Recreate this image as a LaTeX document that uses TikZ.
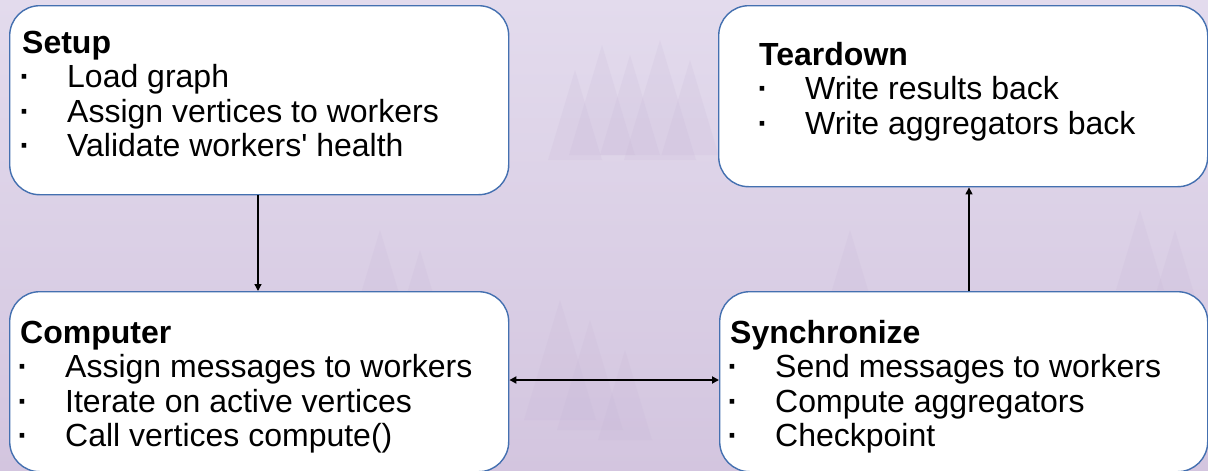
\documentclass[tikz,border=0pt]{standalone}
\usepackage{fontspec}
\setmainfont{Liberation Sans}[Ligatures=TeXOff]
\usetikzlibrary{arrows.meta}
\definecolor{bgtop}{HTML}{E3DBED}
\definecolor{bgbot}{HTML}{D3C5DF}
\definecolor{treec}{HTML}{C4B2D4}
\definecolor{boxblue}{HTML}{4470B0}
\tikzset{
  box/.style={draw=boxblue, line width=1.4pt, fill=white, rounded corners=30pt,
    anchor=north west, inner sep=0pt},
  ttl/.style={anchor=base west, inner sep=0pt, font=\bfseries\fontsize{32}{36}\selectfont},
  itm/.style={anchor=base west, inner sep=0pt, font=\fontsize{32}{36}\selectfont},
  bul/.style={anchor=base, inner sep=0pt, font=\bfseries\fontsize{32}{36}\selectfont},
  conn/.style={line width=1.3pt, -{Triangle[length=7pt,width=7pt]}},
  dconn/.style={line width=2pt, {Triangle[length=7pt,width=7pt]}-{Triangle[length=7pt,width=7pt]}},
  tree/.style={fill=treec, opacity=0.15, draw=none}
}
\begin{document}
\begin{tikzpicture}[x=1pt,y=-1pt]
\useasboundingbox (0,0) rectangle (1208,471);
\shade[top color=bgtop, bottom color=bgbot] (0,0) rectangle (1208,471);
% faint forest
\foreach \tx/\ty/\th in {575/70/90, 602/45/110, 630/55/100, 660/40/120, 690/60/95, 1140/210/80, 1175/230/70, 560/300/120, 590/320/110, 625/350/90, 380/230/70, 420/250/60, 850/230/70}{
  \fill[tree] (\tx,\ty) -- (\tx+0.3*\th,\ty+\th) -- (\tx-0.3*\th,\ty+\th) -- cycle;
}
% boxes
\node[box, minimum width=499pt, minimum height=189pt] (setup) at (9,5) {};
\node[box, minimum width=489pt, minimum height=181pt] (teardown) at (718,5) {};
\node[box, minimum width=499pt, minimum height=180pt] (computer) at (9,291) {};
\node[box, minimum width=488pt, minimum height=180pt] (sync) at (719,291) {};
% Setup text
\node[ttl] (setupt) at (22,53) {Setup};
\node[bul] (sb1) at (25,87.5) {·};
\node[bul] (sb2) at (25,122) {·};
\node[bul] (sb3) at (25,156.5) {·};
\node[itm] (si1) at (67,87.5) {Load graph};
\node[itm] (si2) at (67,122) {Assign vertices to workers};
\node[itm] (si3) at (67,156.5) {Validate workers' health};
% Teardown text
\node[ttl] (teart) at (759,65) {Teardown};
\node[bul] (tb1) at (763,99.5) {·};
\node[bul] (tb2) at (763,134) {·};
\node[itm] (ti1) at (805,99.5) {Write results back};
\node[itm] (ti2) at (805,134) {Write aggregators back};
% Computer text
\node[ttl] (compt) at (20,343) {Computer};
\node[bul] (cb1) at (23,377.5) {·};
\node[bul] (cb2) at (23,412) {·};
\node[bul] (cb3) at (23,446.5) {·};
\node[itm] (ci1) at (65,377.5) {Assign messages to workers};
\node[itm] (ci2) at (65,412) {Iterate on active vertices};
\node[itm] (ci3) at (65,446.5) {Call vertices compute()};
% Synchronize text
\node[ttl] (synct) at (730,343) {Synchronize};
\node[bul] (yb1) at (733,377.5) {·};
\node[bul] (yb2) at (733,412) {·};
\node[bul] (yb3) at (733,446.5) {·};
\node[itm] (yi1) at (775,377.5) {Send messages to workers};
\node[itm] (yi2) at (775,412) {Compute aggregators};
\node[itm] (yi3) at (775,446.5) {Checkpoint};
% connectors
\coordinate (xd) at (258,0);
\coordinate (xu) at (969,0);
\coordinate (yh) at (0,380);
\draw[conn] (setup.south -| xd) -- (computer.north -| xd);
\draw[conn] (sync.north -| xu) -- (teardown.south -| xu);
\draw[dconn] (computer.east |- yh) -- (sync.west |- yh);
\end{tikzpicture}
\end{document}
